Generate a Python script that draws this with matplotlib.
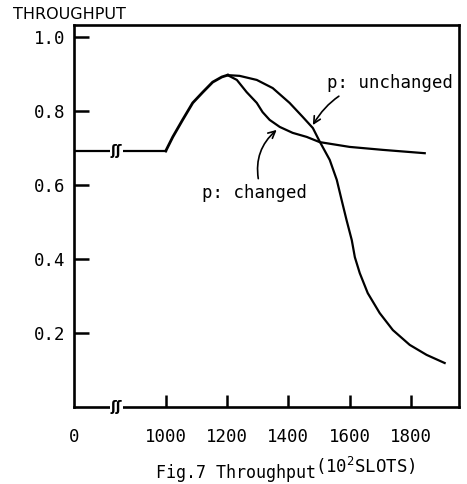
import numpy as np
import matplotlib.pyplot as plt

# values (x in 10^2 slots, 700 stands for the broken "0")
x_flat = [700, 1000]
y_flat = [0.692, 0.692]

x_rise = [1000, 1023, 1055, 1088, 1121, 1153, 1183, 1202]
y_rise = [0.692, 0.73, 0.776, 0.822, 0.851, 0.878, 0.892, 0.897]

x_changed = [1202, 1232, 1264, 1297, 1316, 1339, 1372, 1414, 1460, 1502, 1600, 1708, 1845]
y_changed = [0.897, 0.884, 0.851, 0.822, 0.797, 0.776, 0.757, 0.741, 0.73, 0.716, 0.703, 0.695, 0.686]

x_unchanged = [1202, 1241, 1297, 1349, 1404, 1447, 1480, 1502, 1535, 1558, 1574, 1590,
               1607, 1617, 1633, 1659, 1698, 1741, 1796, 1851, 1910]
y_unchanged = [0.897, 0.895, 0.884, 0.862, 0.822, 0.784, 0.754, 0.718, 0.668, 0.614, 0.559, 0.505,
               0.451, 0.405, 0.362, 0.308, 0.254, 0.208, 0.168, 0.141, 0.119]

xticks = [700, 1000, 1200, 1400, 1600, 1800]
xticklabels = ['0', '1000', '1200', '1400', '1600', '1800']
yticks = [0.2, 0.4, 0.6, 0.8, 1.0]
yticklabels = ['0.2', '0.4', '0.6', '0.8', '1.0']

mono = 'DejaVu Sans Mono'
plt.rcParams['mathtext.fontset'] = 'custom'
plt.rcParams['mathtext.rm'] = mono

fig = plt.figure(figsize=(4.67, 4.84), dpi=100)
ax = fig.add_axes([0.158, 0.159, 0.825, 0.789])

lw = 1.6
ax.plot(x_flat, y_flat, color='k', lw=lw)
ax.plot(x_rise, y_rise, color='k', lw=lw + 0.4, solid_joinstyle='round')
ax.plot(x_changed, y_changed, color='k', lw=lw, solid_joinstyle='round')
ax.plot(x_unchanged, y_unchanged, color='k', lw=lw, solid_joinstyle='round')

ax.set_xlim(700, 1957)
ax.set_ylim(0, 1.032)

for s in ax.spines.values():
    s.set_linewidth(1.9)

ax.set_xticks(xticks)
ax.set_xticklabels(xticklabels, family=mono, fontsize=12.5)
ax.set_yticks(yticks)
ax.set_yticklabels(yticklabels, family=mono, fontsize=12.5)
ax.tick_params(axis='x', direction='in', length=9, width=1.8, pad=15)
ax.tick_params(axis='y', direction='in', length=11, width=1.8, pad=6)
ax.xaxis.get_major_ticks()[0].tick1line.set_visible(False)

# axis break marks
brk = dict(ha='center', va='center', fontsize=10, fontweight='bold',
           bbox=dict(fc='white', ec='none', pad=0.5))
ax.text(840, 0.692, 'ʃʃ', **brk)
ax.text(840, 0.0, 'ʃʃ', clip_on=False, **brk)

# labels
ax.annotate('p: unchanged', xy=(1480, 0.762), xytext=(1525, 0.876),
            family=mono, fontsize=12.5, va='center', ha='left',
            arrowprops=dict(arrowstyle='->', color='k', lw=1.2,
                            connectionstyle='arc3,rad=0.3', shrinkA=2, shrinkB=0))
ax.annotate('p: changed', xy=(1362, 0.749), xytext=(1117, 0.578),
            family=mono, fontsize=12.5, va='center', ha='left',
            arrowprops=dict(arrowstyle='->', color='k', lw=1.2,
                            connectionstyle='arc3,rad=-0.3', shrinkA=2, shrinkB=0,
                            relpos=(0.55, 1.0)))

fig.text(0.028, 0.971, 'THROUGHPUT', fontsize=11.5, va='center', ha='left')
fig.text(0.675, 0.037, '(10$^2$SLOTS)', family=mono, fontsize=12.5, va='center', ha='left')
fig.text(0.505, 0.004, 'Fig.7 Throughput', family=mono, fontsize=12, va='bottom', ha='center')

fig.savefig('out.png', dpi=100)
